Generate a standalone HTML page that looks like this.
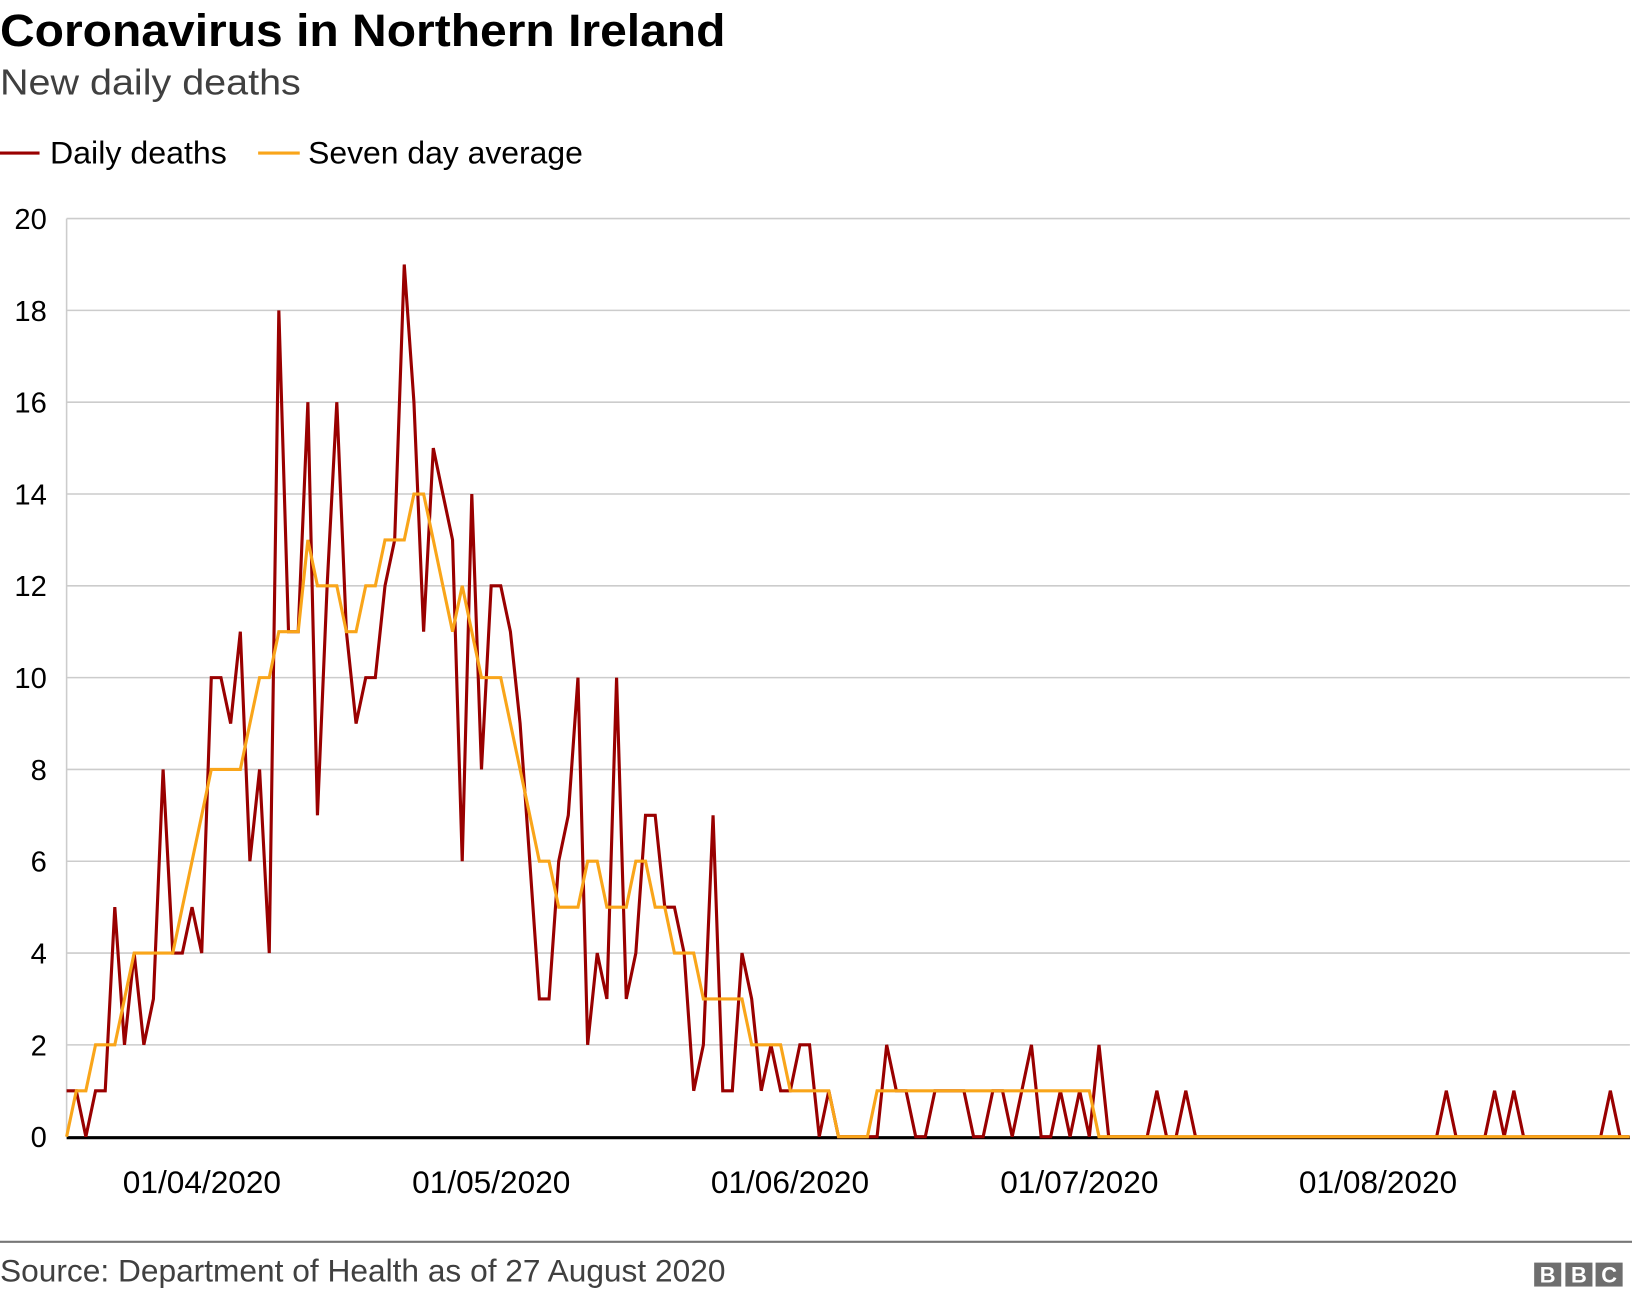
<!DOCTYPE html>
<html><head><meta charset="utf-8"><style>
html,body{margin:0;padding:0;background:#fff;}
svg{display:block;font-family:"Liberation Sans",Arial,sans-serif;}
</style></head><body>
<svg width="1632" height="1298" viewBox="0 0 1568 1247" preserveAspectRatio="none" xmlns="http://www.w3.org/2000/svg">
<text x="0" y="44" font-size="44" font-weight="bold" fill="#000" textLength="697" lengthAdjust="spacingAndGlyphs">Coronavirus in Northern Ireland</text>
<text x="0" y="91" font-size="35" fill="#404040" textLength="289" lengthAdjust="spacingAndGlyphs">New daily deaths</text>
<line x1="0" y1="147" x2="38" y2="147" stroke="#990000" stroke-width="3"/>
<text x="48" y="157" font-size="30" fill="#000" textLength="170" lengthAdjust="spacingAndGlyphs">Daily deaths</text>
<line x1="248" y1="147" x2="288" y2="147" stroke="#f9a51a" stroke-width="3"/>
<text x="296" y="157" font-size="30" fill="#000" textLength="264" lengthAdjust="spacingAndGlyphs">Seven day average</text>
<g id="grid" stroke="#cccccc" stroke-width="1.5"></g>
<line x1="64" y1="210" x2="64" y2="1092" stroke="#cccccc" stroke-width="1.5"/>
<g id="ylab" font-size="28" fill="#000" text-anchor="end"></g>
<line x1="64" y1="1093" x2="1566" y2="1093" stroke="#000" stroke-width="3"/>
<polyline id="daily" fill="none" stroke="#990000" stroke-width="3" stroke-linejoin="miter"/>
<polyline id="avg" fill="none" stroke="#f9a51a" stroke-width="3"/>
<g font-size="30" fill="#000" text-anchor="middle">
<text x="194" y="1146" textLength="152" lengthAdjust="spacingAndGlyphs">01/04/2020</text>
<text x="472" y="1146" textLength="152" lengthAdjust="spacingAndGlyphs">01/05/2020</text>
<text x="759" y="1146" textLength="152" lengthAdjust="spacingAndGlyphs">01/06/2020</text>
<text x="1037" y="1146" textLength="152" lengthAdjust="spacingAndGlyphs">01/07/2020</text>
<text x="1324" y="1146" textLength="152" lengthAdjust="spacingAndGlyphs">01/08/2020</text>
</g>
<line x1="0" y1="1193" x2="1568" y2="1193" stroke="#777" stroke-width="2"/>
<text x="0" y="1231" font-size="30" fill="#404040" textLength="697" lengthAdjust="spacingAndGlyphs">Source: Department of Health as of 27 August 2020</text>
<g fill="#6e6e6e"><rect x="1474" y="1213" width="26" height="23"/><rect x="1504" y="1213" width="26" height="23"/><rect x="1533" y="1213" width="26" height="23"/></g>
<g fill="#fff" font-size="21" font-weight="bold" text-anchor="middle"><text x="1487" y="1232">B</text><text x="1517" y="1232">B</text><text x="1546" y="1232">C</text></g>
<script>
var X0=64,DW=9.27,Y0=1092,U=44.1;
var g=document.getElementById('grid'),yl=document.getElementById('ylab'),ns='http://www.w3.org/2000/svg';
for(var v=2;v<=20;v+=2){var y=Y0-v*U;var l=document.createElementNS(ns,'line');l.setAttribute('x1',64);l.setAttribute('x2',1566);l.setAttribute('y1',y);l.setAttribute('y2',y);g.appendChild(l);}
for(var v=0;v<=20;v+=2){var t=document.createElementNS(ns,'text');t.setAttribute('x',45);t.setAttribute('y',Y0-v*U+10);t.textContent=v;yl.appendChild(t);}
var d=[1,1,0,1,1,5,2,4,2,3,8,4,4,5,4,10,10,9,11,6,8,4,18,11,11,16,7,12,16,11,9,10,10,12,13,19,16,11,15,14,13,6,14,8,12,12,11,9,6,3,3,6,7,10,2,4,3,10,3,4,7,7,5,5,4,1,2,7,1,1,4,3,1,2,1,1,2,2,0,1,0,0,0,0,0,2,1,1,0,0,1,1,1,1,0,0,1,1,0,1,2,0,0,1,0,1,0,2];
while(d.length<163)d.push(0);
[113,116,143,148,150,160].forEach(function(i){d[i]=1;});
var a=[0,1,1,2,2,2,3,4,4,4,4,4,5,6,7,8,8,8,8,9,10,10,11,11,11,13,12,12,12,11,11,12,12,13,13,13,14,14,13,12,11,12,11,10,10,10,9,8,7,6,6,5,5,5,6,6,5,5,5,6,6,5,5,4,4,4,3,3,3,3,3,2,2,2,2,1,1,1,1,1,0,0,0,0];
while(a.length<107)a.push(1);
while(a.length<163)a.push(0);
function pts(arr){return arr.map(function(v,i){return (X0+i*DW).toFixed(1)+','+(Y0-v*U).toFixed(1);}).join(' ');}
document.getElementById('daily').setAttribute('points',pts(d));
document.getElementById('avg').setAttribute('points',pts(a));
</script>
</svg>
</body></html>
